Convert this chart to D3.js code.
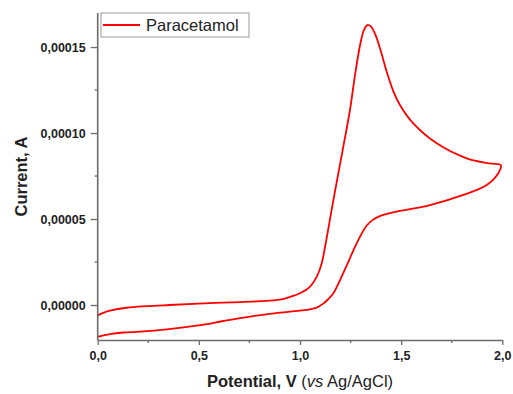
<!DOCTYPE html>
<html>
<head>
<meta charset="utf-8">
<script src="https://cdn.jsdelivr.net/npm/d3@7/dist/d3.min.js"></script>
<style>
  html, body { margin: 0; padding: 0; background: #fff; }
  svg { display: block; font-family: Arial, "Liberation Sans", sans-serif; }
</style>
</head>
<body>
<svg id="chart" width="513" height="394"></svg>
<script>
// Cyclic voltammogram of paracetamol: forward (anodic) scan, then the reverse scan
const forwardPotential = [0.000, 0.031, 0.061, 0.143, 0.242, 0.357, 0.497, 0.654, 0.802, 0.901, 0.951, 1.000,
  1.049, 1.083, 1.107, 1.124, 1.165, 1.211, 1.247, 1.272, 1.297, 1.316, 1.333, 1.351, 1.371, 1.395,
  1.429, 1.461, 1.494, 1.560, 1.676, 1.824, 1.939, 1.992];
const forwardCurrent = [-0.60e-5, -0.44e-5, -0.33e-5, -0.16e-5, -0.07e-5, 0.00e-5, 0.08e-5, 0.15e-5, 0.22e-5, 0.31e-5, 0.47e-5, 0.68e-5,
  1.06e-5, 1.65e-5, 2.42e-5, 3.39e-5, 6.10e-5, 9.01e-5, 11.34e-5, 13.37e-5, 15.12e-5, 15.99e-5, 16.28e-5, 16.19e-5, 15.76e-5, 14.94e-5,
  13.55e-5, 12.44e-5, 11.63e-5, 10.56e-5, 9.40e-5, 8.53e-5, 8.23e-5, 8.14e-5];

const reversePotential = [1.980, 1.923, 1.807, 1.643, 1.494, 1.450, 1.400, 1.360, 1.330, 1.297, 1.264, 1.231, 1.198,
  1.165, 1.138, 1.115, 1.083, 1.049, 0.951, 0.850, 0.753, 0.621, 0.497, 0.341, 0.209, 0.127, 0.061, 0.000];
const reverseCurrent = [7.66e-5, 6.98e-5, 6.40e-5, 5.81e-5, 5.47e-5, 5.36e-5, 5.20e-5, 4.95e-5, 4.62e-5, 3.98e-5, 3.18e-5, 2.30e-5, 1.45e-5,
  0.68e-5, 0.32e-5, 0.08e-5, -0.15e-5, -0.25e-5, -0.39e-5, -0.51e-5, -0.67e-5, -0.93e-5, -1.19e-5, -1.42e-5, -1.55e-5, -1.60e-5, -1.69e-5, -1.85e-5];

const xTickValues = [0, 0.5, 1.0, 1.5, 2.0];
const xTickLabels = ["0,0", "0,5", "1,0", "1,5", "2,0"];
const xMinorValues = [0.25, 0.75, 1.25, 1.75];
const yTickValues = [0, 0.00005, 0.00010, 0.00015];
const yTickLabels = ["0,00000", "0,00005", "0,00010", "0,00015"];
const yMinorValues = [0.000025, 0.000075, 0.000125];
const seriesName = "Paracetamol";

const svg = d3.select("#chart");
const plot = { left: 97.7, right: 502.3, top: 13, bottom: 340 };

const x = d3.scaleLinear().domain([0, 2]).range([plot.left, plot.right]);
const y = d3.scaleLinear().domain([-0.00002035, 0.0001698]).range([plot.bottom, plot.top]);

const axisColor = "#6b6b6b";

// Voltammogram trace
const points = forwardPotential.map((v, i) => [v, forwardCurrent[i]])
  .concat(reversePotential.map((v, i) => [v, reverseCurrent[i]]));
const line = d3.line().x(d => x(d[0])).y(d => y(d[1])).curve(d3.curveCatmullRom.alpha(0.5));
svg.append("path")
  .attr("d", line(points))
  .attr("fill", "none")
  .attr("stroke", "#ff0000")
  .attr("stroke-width", 1.8)
  .attr("stroke-linejoin", "round");

// X axis
const xAxis = d3.axisBottom(x).tickValues(xTickValues)
  .tickFormat((d, i) => xTickLabels[i]).tickSize(5).tickSizeOuter(0).tickPadding(6);
const gx = svg.append("g").attr("transform", `translate(0,${plot.bottom})`).call(xAxis);
gx.append("g").call(g => g.selectAll("line.minor").data(xMinorValues).join("line")
  .attr("class", "minor").attr("x1", d => x(d)).attr("x2", d => x(d)).attr("y1", 0).attr("y2", 3));

// Y axis
const yAxis = d3.axisLeft(y).tickValues(yTickValues)
  .tickFormat((d, i) => yTickLabels[i]).tickSize(7).tickSizeOuter(0).tickPadding(5);
const gy = svg.append("g").attr("transform", `translate(${plot.left},0)`).call(yAxis);
gy.append("g").call(g => g.selectAll("line.minor").data(yMinorValues).join("line")
  .attr("class", "minor").attr("x1", -3).attr("x2", 0).attr("y1", d => y(d)).attr("y2", d => y(d)));

[gx, gy].forEach(g => {
  g.select(".domain").attr("stroke", axisColor).attr("stroke-width", 1.6);
  g.selectAll("line").attr("stroke", axisColor).attr("stroke-width", 1.3);
  g.selectAll("text").attr("fill", "#222").attr("font-size", "12.5px").attr("font-weight", "bold")
    .attr("font-family", "Arial, 'Liberation Sans', sans-serif");
});
gy.select(".domain").attr("d", `M0,${plot.bottom}V${plot.top}`);

// Axis titles
const xTitle = svg.append("text")
  .attr("x", (plot.left + plot.right) / 2).attr("y", 387)
  .attr("text-anchor", "middle").attr("font-size", "16.5px").attr("fill", "#222");
xTitle.append("tspan").attr("font-weight", "bold").text("Potential, V ");
xTitle.append("tspan").text("(");
xTitle.append("tspan").attr("font-style", "italic").text("vs");
xTitle.append("tspan").text(" Ag/AgCl)");

svg.append("text")
  .attr("transform", `translate(27,${(plot.top + plot.bottom) / 2}) rotate(-90)`)
  .attr("text-anchor", "middle").attr("font-size", "16.5px").attr("font-weight", "bold").attr("fill", "#222")
  .text("Current, A");

// Legend
const legend = svg.append("g");
legend.append("rect").attr("x", 101).attr("y", 13).attr("width", 148).attr("height", 24)
  .attr("fill", "#fff").attr("stroke", "#9a9a9a").attr("stroke-width", 1);
legend.append("line").attr("x1", 103).attr("x2", 140).attr("y1", 25).attr("y2", 25)
  .attr("stroke", "#ff0000").attr("stroke-width", 1.8);
legend.append("text").attr("x", 146).attr("y", 31).attr("font-size", "16.5px").attr("fill", "#222")
  .text(seriesName);
</script>
</body>
</html>
